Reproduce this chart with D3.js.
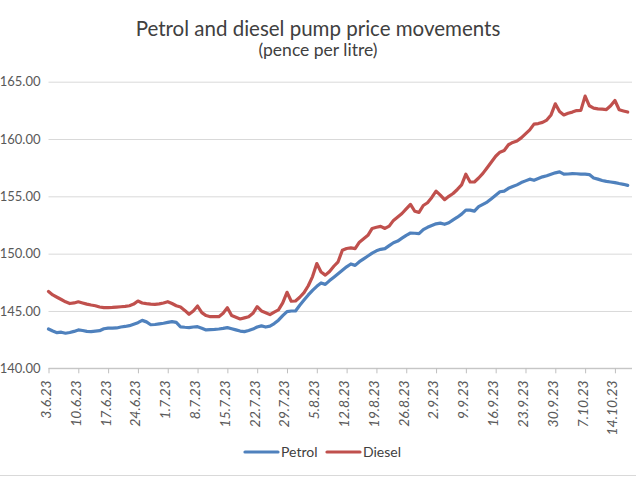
<!DOCTYPE html>
<html><head><meta charset="utf-8">
<script src="https://cdn.jsdelivr.net/npm/d3@7"></script>
<style>
html,body{margin:0;padding:0;background:#fff;overflow:hidden}
svg{display:block}
</style></head>
<body>
<svg id="chart" width="636" height="477"></svg>
<script>
const title = "Petrol and diesel pump price movements";
const subtitle = "(pence per litre)";
const startDate = "3.6.23";
const tickLabels = ["3.6.23","10.6.23","17.6.23","24.6.23","1.7.23","8.7.23","15.7.23","22.7.23","29.7.23","5.8.23","12.8.23","19.8.23","26.8.23","2.9.23","9.9.23","16.9.23","23.9.23","30.9.23","7.10.23","14.10.23"];
const yTicks = [140,145,150,155,160,165];
const seriesNames = ["Petrol","Diesel"];
const petrol = [143.43,143.25,143.11,143.15,143.06,143.12,143.22,143.35,143.3,143.22,
143.2,143.24,143.28,143.45,143.5,143.5,143.52,143.6,143.65,143.72,
143.85,143.98,144.18,144.05,143.8,143.82,143.88,143.93,144.0,144.07,
144.0,143.62,143.58,143.55,143.6,143.63,143.5,143.35,143.38,143.4,
143.43,143.48,143.55,143.45,143.35,143.25,143.2,143.3,143.42,143.6,
143.7,143.6,143.68,143.9,144.2,144.6,144.95,145.0,145.0,145.5,
145.95,146.4,146.8,147.15,147.45,147.32,147.65,147.95,148.25,148.55,
148.85,149.1,148.98,149.3,149.55,149.8,150.05,150.25,150.38,150.44,
150.7,150.95,151.1,151.35,151.6,151.8,151.78,151.74,152.1,152.3,
152.45,152.6,152.66,152.56,152.7,152.95,153.18,153.45,153.8,153.8,
153.71,154.1,154.3,154.5,154.8,155.1,155.4,155.46,155.7,155.85,
156.0,156.2,156.35,156.5,156.4,156.55,156.7,156.8,156.93,157.05,
157.13,156.93,156.95,156.98,156.97,156.93,156.93,156.9,156.6,156.5,
156.38,156.3,156.25,156.2,156.12,156.05,155.96];
const diesel = [146.7,146.4,146.2,146.0,145.8,145.65,145.7,145.8,145.7,145.6,
145.52,145.46,145.35,145.3,145.29,145.31,145.34,145.37,145.4,145.46,
145.6,145.87,145.7,145.64,145.6,145.58,145.62,145.7,145.81,145.65,
145.46,145.35,145.05,144.71,145.0,145.43,144.85,144.6,144.5,144.52,
144.5,144.8,145.29,144.6,144.45,144.3,144.4,144.5,144.8,145.37,
145.0,144.85,144.68,144.9,145.09,145.7,146.63,145.85,145.87,146.2,
146.6,147.2,148.0,149.14,148.4,148.13,148.45,148.9,149.29,150.3,
150.45,150.5,150.44,151.0,151.3,151.6,152.2,152.3,152.38,152.2,
152.4,152.9,153.2,153.5,153.9,154.3,153.7,153.6,154.2,154.44,
154.9,155.46,155.1,154.71,155.0,155.25,155.6,156.0,156.93,156.25,
156.25,156.6,157.0,157.5,158.0,158.5,158.85,159.0,159.5,159.7,
159.82,160.1,160.45,160.8,161.3,161.35,161.45,161.65,162.1,163.07,
162.4,162.1,162.25,162.35,162.48,162.5,163.74,162.9,162.7,162.63,
162.6,162.57,162.9,163.36,162.55,162.45,162.35];
const colors = ["#4f81bd","#c0504d"];

const parse = d3.timeParse("%d.%m.%y");
const t0 = parse(startDate);
const dates = petrol.map((_, i) => d3.timeDay.offset(t0, i));
const tickDates = tickLabels.map(parse);

const svg = d3.select("#chart");
const font = "Lato, 'Open Sans', sans-serif";
const mLeft = 48.5, mRight = 627.7, mTop = 81.7, mBottom = 368.3;

const x = d3.scaleTime().domain([dates[0], dates[dates.length-1]]).range([mLeft, mRight]);
const y = d3.scaleLinear().domain([140,165]).range([mBottom, mTop]);

svg.append("line").attr("x1",0).attr("x2",636).attr("y1",475.5).attr("y2",475.5)
  .attr("stroke","#d9d9d9").attr("stroke-width",1);

const yAxis = d3.axisLeft(y).tickValues(yTicks).tickSize(-(632 - mLeft)).tickFormat(d3.format(".2f")).tickPadding(8);
const gy = svg.append("g").attr("transform",`translate(${mLeft},0)`).call(yAxis);
gy.select(".domain").remove();
gy.selectAll(".tick line").attr("stroke","#d9d9d9").attr("stroke-width",1);
gy.selectAll(".tick text").attr("fill","#595959").style("font-family",font).style("font-size","13px");

const xAxis = d3.axisBottom(x).tickValues(tickDates).tickSize(5).tickFormat((d,i)=>tickLabels[i]).tickSizeOuter(0);
const gx = svg.append("g").attr("transform",`translate(0,${mBottom})`).call(xAxis);
gx.select(".domain").attr("stroke","#bfbfbf").attr("d",`M${mLeft},0H632`);
gx.selectAll(".tick line").attr("stroke","#bfbfbf");
gx.selectAll(".tick text")
  .attr("fill","#595959").style("font-family",font).style("font-size","14px").style("font-style","italic")
  .attr("text-anchor","end").attr("transform","rotate(-90)")
  .attr("x",-12).attr("y",-3).attr("dy","0.35em");

const line = d3.line().x((d,i)=>x(dates[i])).y(d=>y(d));
[petrol, diesel].forEach((s, k) => {
  svg.append("path").datum(s).attr("d", line).attr("fill","none")
    .attr("stroke", colors[k]).attr("stroke-width",3.2)
    .attr("stroke-linejoin","round").attr("stroke-linecap","round");
});

svg.append("text").attr("x",318).attr("y",36).attr("text-anchor","middle")
  .attr("fill","#404040").style("font-family",font).style("font-size","20.5px").text(title);
svg.append("text").attr("x",318).attr("y",56).attr("text-anchor","middle")
  .attr("fill","#404040").style("font-family",font).style("font-size","17.5px").text(subtitle);

const legX = [245, 327];
seriesNames.forEach((n,k)=>{
  const g = svg.append("g").attr("transform",`translate(${legX[k]},452)`);
  g.append("line").attr("x1",0).attr("x2",33).attr("y1",0).attr("y2",0)
    .attr("stroke",colors[k]).attr("stroke-width",3.2).attr("stroke-linecap","round");
  g.append("text").attr("x",36).attr("y",0).attr("dy","0.35em").attr("fill","#404040")
    .style("font-family",font).style("font-size","14px").text(n);
});
</script>
</body></html>
